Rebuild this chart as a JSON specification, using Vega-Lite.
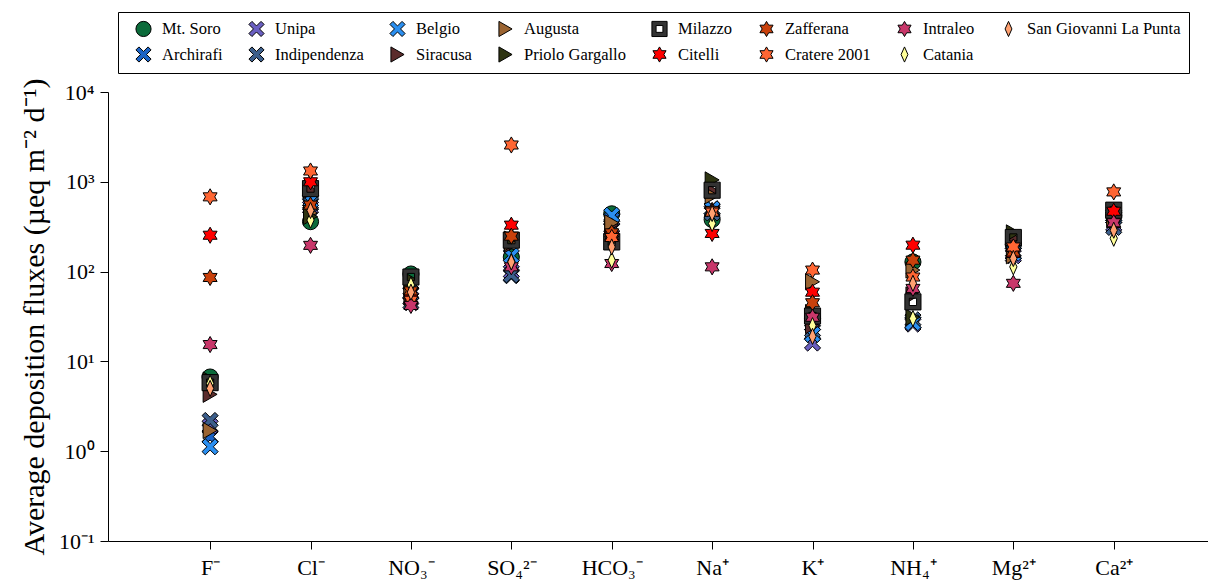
{
  "$schema": "https://vega.github.io/schema/vega-lite/v6.json",
  "autosize": {"type": "none"},
  "padding": {"left": 108, "top": 92, "right": 0, "bottom": 42},
  "width": 1100,
  "height": 449,
  "background": "white",
  "config": {
    "view": {"stroke": null},
    "font": "Liberation Serif",
    "axis": {"domainColor": "black", "tickColor": "black", "labelColor": "black", "titleColor": "black", "grid": false, "labelFont": "Liberation Serif", "titleFont": "Liberation Serif", "titleFontWeight": "normal"},
    "legend": {"labelFont": "Liberation Serif", "labelFontSize": 16.5}
  },
  "datasets": {
    "fluxes": [
      {"site": "Mt. Soro", "ion": "F", "flux": 6.7}, {"site": "Mt. Soro", "ion": "Cl", "flux": 360}, {"site": "Mt. Soro", "ion": "NO3", "flux": 94}, {"site": "Mt. Soro", "ion": "SO4", "flux": 145}, {"site": "Mt. Soro", "ion": "HCO3", "flux": 440}, {"site": "Mt. Soro", "ion": "Na", "flux": 380}, {"site": "Mt. Soro", "ion": "K", "flux": 30}, {"site": "Mt. Soro", "ion": "NH4", "flux": 128}, {"site": "Mt. Soro", "ion": "Mg", "flux": 200}, {"site": "Mt. Soro", "ion": "Ca", "flux": 420},
      {"site": "Archirafi", "ion": "F", "flux": 1.45}, {"site": "Archirafi", "ion": "Cl", "flux": 560}, {"site": "Archirafi", "ion": "NO3", "flux": 57}, {"site": "Archirafi", "ion": "SO4", "flux": 90}, {"site": "Archirafi", "ion": "HCO3", "flux": 380}, {"site": "Archirafi", "ion": "Na", "flux": 500}, {"site": "Archirafi", "ion": "K", "flux": 20}, {"site": "Archirafi", "ion": "NH4", "flux": 27}, {"site": "Archirafi", "ion": "Mg", "flux": 160}, {"site": "Archirafi", "ion": "Ca", "flux": 400},
      {"site": "Unipa", "ion": "F", "flux": 1.9}, {"site": "Unipa", "ion": "Cl", "flux": 520}, {"site": "Unipa", "ion": "NO3", "flux": 50}, {"site": "Unipa", "ion": "SO4", "flux": 100}, {"site": "Unipa", "ion": "HCO3", "flux": 300}, {"site": "Unipa", "ion": "Na", "flux": 470}, {"site": "Unipa", "ion": "K", "flux": 16}, {"site": "Unipa", "ion": "NH4", "flux": 26}, {"site": "Unipa", "ion": "Mg", "flux": 150}, {"site": "Unipa", "ion": "Ca", "flux": 330},
      {"site": "Indipendenza", "ion": "F", "flux": 2.2}, {"site": "Indipendenza", "ion": "Cl", "flux": 580}, {"site": "Indipendenza", "ion": "NO3", "flux": 45}, {"site": "Indipendenza", "ion": "SO4", "flux": 92}, {"site": "Indipendenza", "ion": "HCO3", "flux": 320}, {"site": "Indipendenza", "ion": "Na", "flux": 450}, {"site": "Indipendenza", "ion": "K", "flux": 22}, {"site": "Indipendenza", "ion": "NH4", "flux": 29}, {"site": "Indipendenza", "ion": "Mg", "flux": 170}, {"site": "Indipendenza", "ion": "Ca", "flux": 310},
      {"site": "Belgio", "ion": "F", "flux": 1.12}, {"site": "Belgio", "ion": "Cl", "flux": 620}, {"site": "Belgio", "ion": "NO3", "flux": 58}, {"site": "Belgio", "ion": "SO4", "flux": 150}, {"site": "Belgio", "ion": "HCO3", "flux": 425}, {"site": "Belgio", "ion": "Na", "flux": 500}, {"site": "Belgio", "ion": "K", "flux": 20}, {"site": "Belgio", "ion": "NH4", "flux": 27}, {"site": "Belgio", "ion": "Mg", "flux": 160}, {"site": "Belgio", "ion": "Ca", "flux": 420},
      {"site": "Siracusa", "ion": "F", "flux": 4.3}, {"site": "Siracusa", "ion": "Cl", "flux": 800}, {"site": "Siracusa", "ion": "NO3", "flux": 52}, {"site": "Siracusa", "ion": "SO4", "flux": 200}, {"site": "Siracusa", "ion": "HCO3", "flux": 330}, {"site": "Siracusa", "ion": "Na", "flux": 790}, {"site": "Siracusa", "ion": "K", "flux": 25}, {"site": "Siracusa", "ion": "NH4", "flux": 55}, {"site": "Siracusa", "ion": "Mg", "flux": 235}, {"site": "Siracusa", "ion": "Ca", "flux": 400},
      {"site": "Augusta", "ion": "F", "flux": 1.7}, {"site": "Augusta", "ion": "Cl", "flux": 450}, {"site": "Augusta", "ion": "NO3", "flux": 65}, {"site": "Augusta", "ion": "SO4", "flux": 210}, {"site": "Augusta", "ion": "HCO3", "flux": 350}, {"site": "Augusta", "ion": "Na", "flux": 700}, {"site": "Augusta", "ion": "K", "flux": 77}, {"site": "Augusta", "ion": "NH4", "flux": 104}, {"site": "Augusta", "ion": "Mg", "flux": 150}, {"site": "Augusta", "ion": "Ca", "flux": 380},
      {"site": "Priolo Gargallo", "ion": "F", "flux": 6.2}, {"site": "Priolo Gargallo", "ion": "Cl", "flux": 410}, {"site": "Priolo Gargallo", "ion": "NO3", "flux": 80}, {"site": "Priolo Gargallo", "ion": "SO4", "flux": 230}, {"site": "Priolo Gargallo", "ion": "HCO3", "flux": 220}, {"site": "Priolo Gargallo", "ion": "Na", "flux": 1050}, {"site": "Priolo Gargallo", "ion": "K", "flux": 35}, {"site": "Priolo Gargallo", "ion": "NH4", "flux": 31}, {"site": "Priolo Gargallo", "ion": "Mg", "flux": 270}, {"site": "Priolo Gargallo", "ion": "Ca", "flux": 450},
      {"site": "Milazzo", "ion": "F", "flux": 5.8}, {"site": "Milazzo", "ion": "Cl", "flux": 840}, {"site": "Milazzo", "ion": "NO3", "flux": 87}, {"site": "Milazzo", "ion": "SO4", "flux": 224}, {"site": "Milazzo", "ion": "HCO3", "flux": 214}, {"site": "Milazzo", "ion": "Na", "flux": 806}, {"site": "Milazzo", "ion": "K", "flux": 32}, {"site": "Milazzo", "ion": "NH4", "flux": 46}, {"site": "Milazzo", "ion": "Mg", "flux": 240}, {"site": "Milazzo", "ion": "Ca", "flux": 483},
      {"site": "Citelli", "ion": "F", "flux": 254}, {"site": "Citelli", "ion": "Cl", "flux": 1000}, {"site": "Citelli", "ion": "NO3", "flux": 50}, {"site": "Citelli", "ion": "SO4", "flux": 329}, {"site": "Citelli", "ion": "HCO3", "flux": 250}, {"site": "Citelli", "ion": "Na", "flux": 266}, {"site": "Citelli", "ion": "K", "flux": 59}, {"site": "Citelli", "ion": "NH4", "flux": 197}, {"site": "Citelli", "ion": "Mg", "flux": 159}, {"site": "Citelli", "ion": "Ca", "flux": 470},
      {"site": "Zafferana", "ion": "F", "flux": 86}, {"site": "Zafferana", "ion": "Cl", "flux": 550}, {"site": "Zafferana", "ion": "NO3", "flux": 61}, {"site": "Zafferana", "ion": "SO4", "flux": 248}, {"site": "Zafferana", "ion": "HCO3", "flux": 270}, {"site": "Zafferana", "ion": "Na", "flux": 480}, {"site": "Zafferana", "ion": "K", "flux": 45}, {"site": "Zafferana", "ion": "NH4", "flux": 134}, {"site": "Zafferana", "ion": "Mg", "flux": 165}, {"site": "Zafferana", "ion": "Ca", "flux": 343},
      {"site": "Cratere 2001", "ion": "F", "flux": 680}, {"site": "Cratere 2001", "ion": "Cl", "flux": 1320}, {"site": "Cratere 2001", "ion": "NO3", "flux": 48}, {"site": "Cratere 2001", "ion": "SO4", "flux": 2570}, {"site": "Cratere 2001", "ion": "HCO3", "flux": 240}, {"site": "Cratere 2001", "ion": "Na", "flux": 460}, {"site": "Cratere 2001", "ion": "K", "flux": 104}, {"site": "Cratere 2001", "ion": "NH4", "flux": 87}, {"site": "Cratere 2001", "ion": "Mg", "flux": 188}, {"site": "Cratere 2001", "ion": "Ca", "flux": 772},
      {"site": "Intraleo", "ion": "F", "flux": 15.4}, {"site": "Intraleo", "ion": "Cl", "flux": 196}, {"site": "Intraleo", "ion": "NO3", "flux": 42}, {"site": "Intraleo", "ion": "SO4", "flux": 113}, {"site": "Intraleo", "ion": "HCO3", "flux": 123}, {"site": "Intraleo", "ion": "Na", "flux": 113}, {"site": "Intraleo", "ion": "K", "flux": 31}, {"site": "Intraleo", "ion": "NH4", "flux": 65}, {"site": "Intraleo", "ion": "Mg", "flux": 74}, {"site": "Intraleo", "ion": "Ca", "flux": 350},
      {"site": "Catania", "ion": "F", "flux": 5.7}, {"site": "Catania", "ion": "Cl", "flux": 375}, {"site": "Catania", "ion": "NO3", "flux": 71}, {"site": "Catania", "ion": "SO4", "flux": 130}, {"site": "Catania", "ion": "HCO3", "flux": 134}, {"site": "Catania", "ion": "Na", "flux": 343}, {"site": "Catania", "ion": "K", "flux": 25}, {"site": "Catania", "ion": "NH4", "flux": 30}, {"site": "Catania", "ion": "Mg", "flux": 113}, {"site": "Catania", "ion": "Ca", "flux": 235},
      {"site": "San Giovanni La Punta", "ion": "F", "flux": 5.0}, {"site": "San Giovanni La Punta", "ion": "Cl", "flux": 480}, {"site": "San Giovanni La Punta", "ion": "NO3", "flux": 59}, {"site": "San Giovanni La Punta", "ion": "SO4", "flux": 128}, {"site": "San Giovanni La Punta", "ion": "HCO3", "flux": 188}, {"site": "San Giovanni La Punta", "ion": "Na", "flux": 444}, {"site": "San Giovanni La Punta", "ion": "K", "flux": 19}, {"site": "San Giovanni La Punta", "ion": "NH4", "flux": 74}, {"site": "San Giovanni La Punta", "ion": "Mg", "flux": 140}, {"site": "San Giovanni La Punta", "ion": "Ca", "flux": 289}
    ]
  },
  "layer": [
    {
      "mark": {"type": "rule", "color": "black", "strokeWidth": 1},
      "encoding": {"y": {"datum": 10000, "type": "quantitative"}}
    },
    {
      "data": {"name": "fluxes"},
      "mark": {"type": "point", "filled": true, "size": 260, "stroke": "black", "strokeWidth": 1, "opacity": 1, "fillOpacity": 1},
      "encoding": {
        "x": {
          "field": "ion", "type": "nominal",
          "scale": {"type": "point", "domain": ["F", "Cl", "NO3", "SO4", "HCO3", "Na", "K", "NH4", "Mg", "Ca"], "padding": 0.978, "align": 0.52},
          "axis": {
            "title": null, "labelAngle": 0, "labelFontSize": 22, "labelPadding": 8, "tickSize": 8, "domainWidth": 1,
            "labelExpr": "{'F':'F⁻','Cl':'Cl⁻','NO3':'NO₃⁻','SO4':'SO₄²⁻','HCO3':'HCO₃⁻','Na':'Na⁺','K':'K⁺','NH4':'NH₄⁺','Mg':'Mg²⁺','Ca':'Ca²⁺'}[datum.value]"
          }
        },
        "y": {
          "field": "flux", "type": "quantitative",
          "scale": {"type": "log", "domain": [0.1, 10000], "nice": false},
          "axis": {
            "title": "Average deposition fluxes (µeq m⁻² d⁻¹)", "titleFontSize": 30, "titlePadding": 9,
            "values": [0.1, 1, 10, 100, 1000, 10000], "labelFontSize": 22, "tickSize": 8, "labelPadding": 6,
            "labelExpr": "{'0.1':'10⁻¹','1':'10⁰','10':'10¹','100':'10²','1000':'10³','10000':'10⁴'}[''+datum.value]"
          }
        },
        "fill": {
          "field": "site", "type": "nominal",
          "scale": {
            "domain": ["Mt. Soro", "Unipa", "Belgio", "Augusta", "Milazzo", "Zafferana", "Intraleo", "San Giovanni La Punta", "Archirafi", "Indipendenza", "Siracusa", "Priolo Gargallo", "Citelli", "Cratere 2001", "Catania"],
            "range": ["#0b6b3a", "#6a5fc1", "#2b8ff0", "#9b6432", "#333333", "#c9410c", "#c8376a", "#ffa070", "#1b63c6", "#3c5f8c", "#5b2c2c", "#2f3512", "#ff0000", "#ff6633", "#ffff99"]
          },
          "legend": {
            "title": null, "orient": "none", "legendX": 10, "legendY": -80, "direction": "horizontal", "columns": 8,
            "fillColor": "white", "strokeColor": "black", "padding": 8, "rowPadding": 5, "columnPadding": 16,
            "labelFont": "Liberation Serif", "labelFontSize": 16.5, "labelColor": "black", "labelOffset": 10, "labelLimit": 300,
            "symbolSize": 230, "symbolOffset": 9, "symbolStrokeColor": "black", "symbolStrokeWidth": 1, "symbolOpacity": 1
          }
        },
        "shape": {
          "field": "site", "type": "nominal",
          "scale": {
            "domain": ["Mt. Soro", "Unipa", "Belgio", "Augusta", "Milazzo", "Zafferana", "Intraleo", "San Giovanni La Punta", "Archirafi", "Indipendenza", "Siracusa", "Priolo Gargallo", "Citelli", "Cratere 2001", "Catania"],
            "range": [
              "circle",
              "M-1,-0.6L-0.6,-1L0,-0.4L0.6,-1L1,-0.6L0.4,0L1,0.6L0.6,1L0,0.4L-0.6,1L-1,0.6L-0.4,0Z",
              "M-1,-0.6L-0.6,-1L0,-0.4L0.6,-1L1,-0.6L0.4,0L1,0.6L0.6,1L0,0.4L-0.6,1L-1,0.6L-0.4,0Z",
              "triangle-right",
              "M-1,-1L1,-1L1,1L-1,1ZM-0.45,-0.45L-0.45,0.45L0.45,0.45L0.45,-0.45Z",
              "M0,-1L0.289,-0.5L0.866,-0.5L0.577,0L0.866,0.5L0.289,0.5L0,1L-0.289,0.5L-0.866,0.5L-0.577,0L-0.866,-0.5L-0.289,-0.5Z",
              "M0,-1L0.289,-0.5L0.866,-0.5L0.577,0L0.866,0.5L0.289,0.5L0,1L-0.289,0.5L-0.866,0.5L-0.577,0L-0.866,-0.5L-0.289,-0.5Z",
              "M0,-1L0.45,0L0,1L-0.45,0Z",
              "M-1,-0.6L-0.6,-1L0,-0.4L0.6,-1L1,-0.6L0.4,0L1,0.6L0.6,1L0,0.4L-0.6,1L-1,0.6L-0.4,0Z",
              "M-1,-0.6L-0.6,-1L0,-0.4L0.6,-1L1,-0.6L0.4,0L1,0.6L0.6,1L0,0.4L-0.6,1L-1,0.6L-0.4,0Z",
              "triangle-right",
              "triangle-right",
              "M0,-1L0.289,-0.5L0.866,-0.5L0.577,0L0.866,0.5L0.289,0.5L0,1L-0.289,0.5L-0.866,0.5L-0.577,0L-0.866,-0.5L-0.289,-0.5Z",
              "M0,-1L0.289,-0.5L0.866,-0.5L0.577,0L0.866,0.5L0.289,0.5L0,1L-0.289,0.5L-0.866,0.5L-0.577,0L-0.866,-0.5L-0.289,-0.5Z",
              "M0,-1L0.45,0L0,1L-0.45,0Z"
            ]
          }
        }
      }
    }
  ]
}
